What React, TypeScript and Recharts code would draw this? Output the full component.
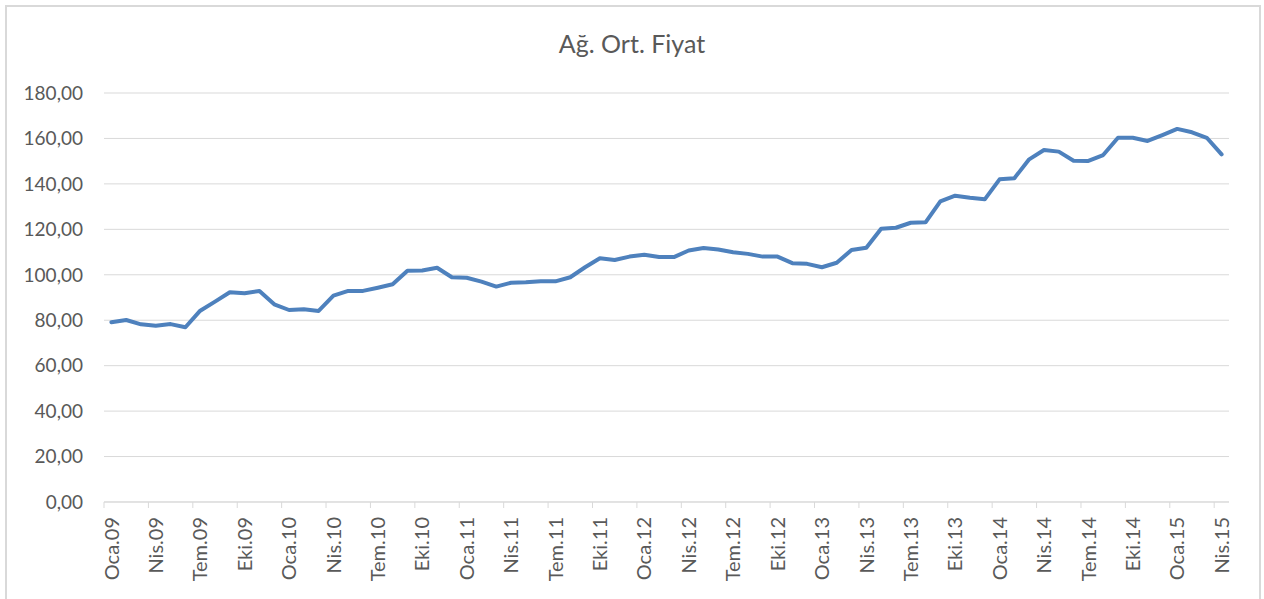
import { LineChart, Line, XAxis, YAxis, CartesianGrid } from 'recharts';

// ---------------------------------------------------------------------------
// Data
// ---------------------------------------------------------------------------

const MONTHS = ['Oca', 'Şub', 'Mar', 'Nis', 'May', 'Haz', 'Tem', 'Ağu', 'Eyl', 'Eki', 'Kas', 'Ara'];
const YEARS = ['09', '10', '11', '12', '13', '14', '15'];

// Oca.09 .. Nis.15
const CATEGORIES: string[] = YEARS.flatMap((y) => MONTHS.map((m) => `${m}.${y}`)).slice(0, 76);

const PRICES = [
  79.1, 80.1, 78.2, 77.6, 78.3, 76.9, 84.2, 88.2, 92.3, 91.9,
  92.9, 87.0, 84.5, 84.8, 84.1, 90.8, 92.9, 92.9, 94.3, 95.8,
  101.8, 101.9, 103.1, 98.9, 98.7, 97.0, 94.8, 96.5, 96.7, 97.1,
  97.1, 98.9, 103.3, 107.3, 106.5, 108.0, 108.8, 107.8, 107.8, 110.7,
  111.8, 111.1, 109.9, 109.2, 108.0, 108.0, 105.1, 104.8, 103.3, 105.3,
  110.9, 111.9, 120.3, 120.7, 122.9, 123.1, 132.3, 134.8, 133.9, 133.2,
  142.0, 142.5, 150.8, 154.9, 154.2, 150.2, 150.1, 152.7, 160.3, 160.3,
  158.9, 161.5, 164.2, 162.7, 160.3, 153.0,
];

const Y_TICKS = [0, 20, 40, 60, 80, 100, 120, 140, 160, 180];
const X_TICKS = CATEGORIES.map((_, i) => i).filter((i) => i % 3 === 0);

const chartData = CATEGORIES.map((label, idx) => ({ idx, label, price: PRICES[idx] }));

// ---------------------------------------------------------------------------
// Layout
// ---------------------------------------------------------------------------

const W = 1264;
const H = 599;
const PLOT_LEFT = 104;
const PLOT_RIGHT = 1229;
const BAND = (PLOT_RIGHT - PLOT_LEFT) / CATEGORIES.length;

const GRID = '#d9d9d9';
const TEXT = '#595959';
const FONT = 'Lato, "Open Sans", sans-serif';

function MonthTick({ x, y, payload }: { x?: number; y?: number; payload?: { value: number } }) {
  if (x == null || y == null || !payload) return null;
  return (
    <g transform={`translate(${x},${y})`}>
      <line x1={-BAND / 2} y1={0} x2={-BAND / 2} y2={6} stroke={GRID} strokeWidth={1} />
      <text
        transform="rotate(-90)"
        x={-15}
        y={0}
        dy="0.36em"
        textAnchor="end"
        fill={TEXT}
        fontSize={20}
        fontFamily={FONT}
      >
        {CATEGORIES[payload.value]}
      </text>
    </g>
  );
}

export default function App() {
  return (
    <div style={{ position: 'absolute', left: 0, top: 0, width: W, height: H, background: '#fff', fontFamily: FONT }}>
      <div
        style={{
          position: 'absolute',
          left: 5,
          top: 5,
          width: 1252,
          height: 620,
          border: `2px solid ${GRID}`,
        }}
      />
      <div
        style={{
          position: 'absolute',
          left: 0,
          width: W,
          top: 26,
          textAlign: 'center',
          fontSize: 25,
          color: TEXT,
          lineHeight: '34px',
        }}
      >
        Ağ. Ort. Fiyat
      </div>
      <div style={{ position: 'absolute', left: 0, top: 0 }}>
        <LineChart
          width={W}
          height={H}
          data={chartData}
          margin={{ top: 93, right: W - PLOT_RIGHT, bottom: 0, left: 0 }}
        >
          <CartesianGrid vertical={false} stroke={GRID} strokeWidth={1} />
          <XAxis
            dataKey="idx"
            type="number"
            domain={[-0.5, CATEGORIES.length - 0.5]}
            ticks={X_TICKS}
            interval={0}
            height={97}
            tickLine={false}
            tickSize={0}
            tickMargin={0}
            axisLine={{ stroke: GRID, strokeWidth: 1 }}
            tick={<MonthTick />}
          />
          <YAxis
            domain={[0, 180]}
            ticks={Y_TICKS}
            width={PLOT_LEFT}
            axisLine={false}
            tickLine={false}
            tickSize={0}
            tickMargin={21}
            tickFormatter={(v: number) => v.toFixed(2).replace('.', ',')}
            tick={{ fill: TEXT, fontSize: 19, fontFamily: FONT }}
          />
          <Line
            type="linear"
            dataKey="price"
            stroke="#4e81bd"
            strokeWidth={4}
            strokeLinejoin="round"
            strokeLinecap="round"
            dot={false}
            isAnimationActive={false}
          />
        </LineChart>
      </div>
    </div>
  );
}
